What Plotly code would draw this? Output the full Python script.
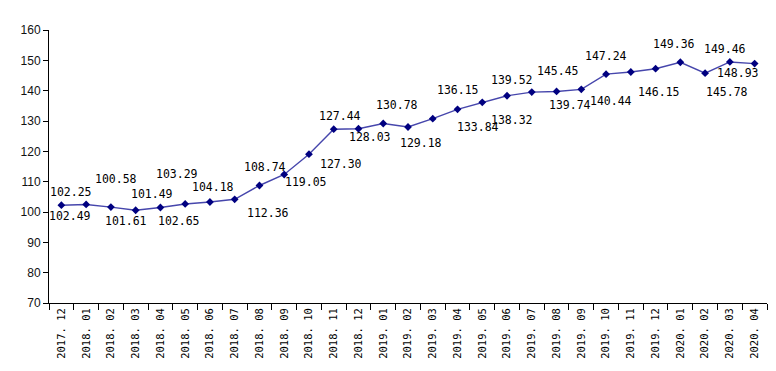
import plotly.graph_objects as go

categories = [
    "2017.12", "2018.01", "2018.02", "2018.03", "2018.04", "2018.05", "2018.06",
    "2018.07", "2018.08", "2018.09", "2018.10", "2018.11", "2018.12", "2019.01",
    "2019.02", "2019.03", "2019.04", "2019.05", "2019.06", "2019.07", "2019.08",
    "2019.09", "2019.10", "2019.11", "2019.12", "2020.01", "2020.02", "2020.03",
    "2020.04",
]
values = [
    102.25, 102.49, 101.61, 100.58, 101.49, 102.65, 103.29,
    104.18, 108.74, 112.36, 119.05, 127.30, 127.44, 129.18,
    128.03, 130.78, 133.84, 136.15, 138.32, 139.52, 139.74,
    140.44, 145.45, 146.15, 147.24, 149.36, 145.78, 149.46,
    148.93,
]
tick_labels = [c.replace(".", ". ") for c in categories]
y_ticks = [70, 80, 90, 100, 110, 120, 130, 140, 150, 160]

# label placement offsets in pixels (dx right, dy down) relative to each point
LABEL_OFFSETS = [
    (10, -13), (-16, 12), (15, 14), (-20, -31), (-8, -13), (-6, 17), (-33, -28),
    (-22, -12), (6, -18), (-16, 38), (-3, 28), (7, 35), (-18, -13), (38, 20),
    (-38, 10), (-36, -14), (20, 18), (-24, -12), (5, 24), (-20, -12), (13, 14),
    (30, 12), (-48, -3), (28, 20), (-50, -13), (-6, -18), (22, 19), (-5, -13),
    (-17, 9),
]

fig = go.Figure()
fig.add_trace(go.Scatter(
    x=categories,
    y=values,
    mode="lines+markers",
    line=dict(color="#4646AC", width=1.4),
    marker=dict(symbol="diamond", size=6, color="#000080"),
    hoverinfo="x+y",
    showlegend=False,
))

label_font = dict(family="DejaVu Sans Mono, monospace", size=11.5, color="#000000")
for i, (v, (dx, dy)) in enumerate(zip(values, LABEL_OFFSETS)):
    fig.add_annotation(
        x=i, y=v, xref="x", yref="y", text=f"{v:.2f}", showarrow=False,
        xshift=dx, yshift=-dy, font=label_font,
        xanchor="center", yanchor="middle",
    )

# page body has an 8px default margin, so the figure is sized to fit inside it
fig.update_layout(
    width=768, height=363,
    margin=dict(l=41, r=9, t=22, b=68),
    paper_bgcolor="white", plot_bgcolor="white",
    showlegend=False,
)
fig.update_xaxes(
    type="category",
    categoryorder="array", categoryarray=categories,
    tickvals=categories, ticktext=tick_labels,
    range=[-0.5, len(categories) - 0.5],
    tickson="boundaries",
    ticks="outside", ticklen=6, tickcolor="black", tickwidth=1,
    tickangle=-90,
    tickfont=dict(family="DejaVu Sans Mono, monospace", size=10.5, color="#000000"),
    showline=True, linecolor="black", linewidth=1,
    showgrid=False, zeroline=False, automargin=False,
)
fig.update_yaxes(
    range=[70, 160],
    tickvals=y_ticks,
    ticks="outside", ticklen=5, tickcolor="black", tickwidth=1,
    tickfont=dict(family="Liberation Sans, Arial, sans-serif", size=12, color="#111111"),
    showline=True, linecolor="black", linewidth=1,
    showgrid=False, zeroline=False, automargin=False,
)

fig.write_html("out.html")
